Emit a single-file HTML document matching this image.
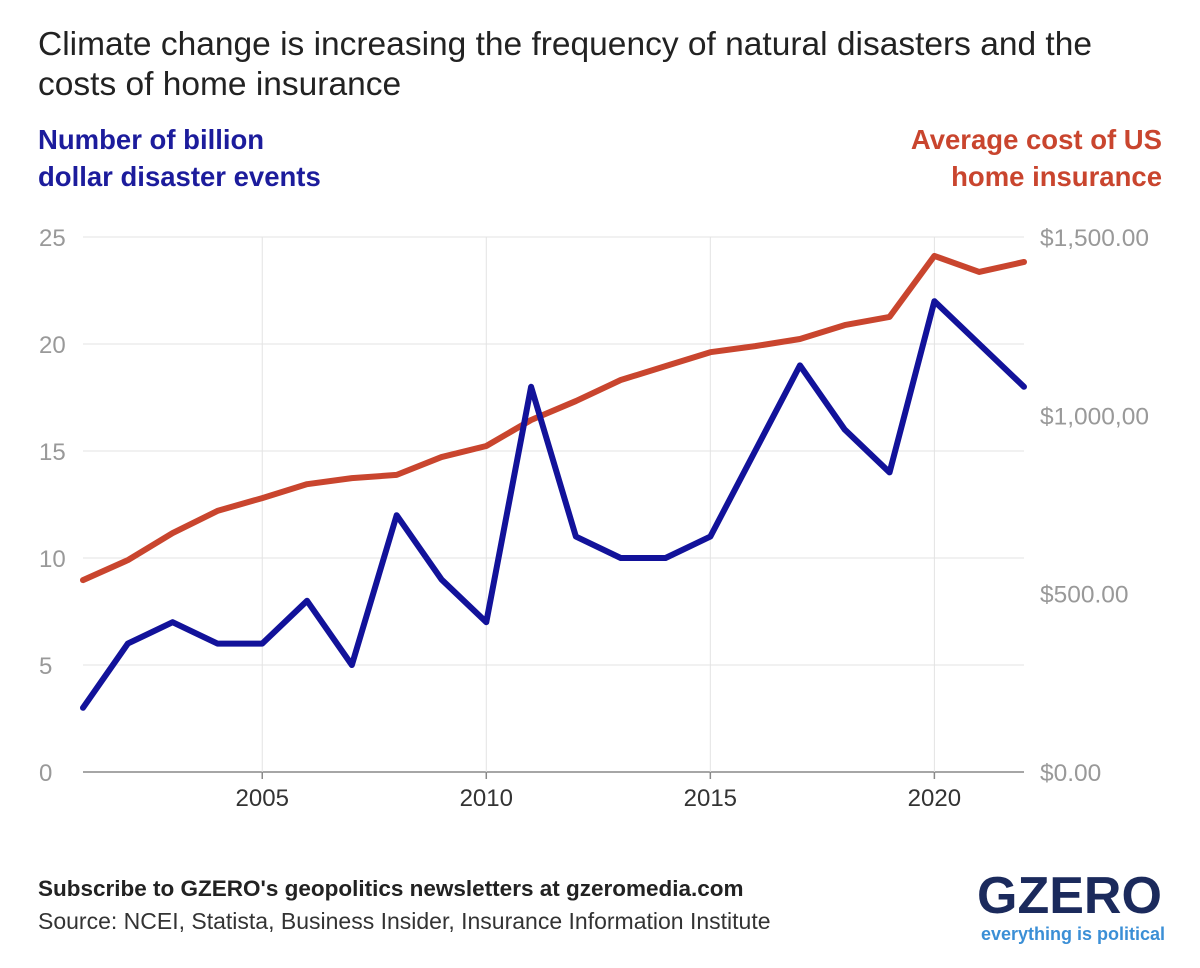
<!DOCTYPE html>
<html><head><meta charset="utf-8"><style>
body{margin:0;width:1200px;height:968px;background:#fff;font-family:"Liberation Sans",sans-serif;overflow:hidden;position:relative}
.t{position:absolute;white-space:nowrap}
</style></head><body>
<div class="t" style="left:38px;top:25px;font-size:33.5px;line-height:40px;color:#222">Climate change is increasing the frequency of natural disasters and the<br>costs of home insurance</div>
<div class="t" style="left:38px;top:121px;font-size:27.5px;line-height:37px;font-weight:bold;color:#1c1c9c">Number of billion<br>dollar disaster events</div>
<div class="t" style="right:38px;top:121px;font-size:27.5px;line-height:37px;font-weight:bold;color:#c9452e;text-align:right">Average cost of US<br>home insurance</div>
<svg id="chart" width="1200" height="968" style="position:absolute;left:0;top:0"></svg>
<div class="t" style="left:38px;top:876px;font-size:22.5px;font-weight:bold;color:#222">Subscribe to GZERO's geopolitics newsletters at gzeromedia.com</div>
<div class="t" style="left:38px;top:908px;font-size:23px;color:#333">Source: NCEI, Statista, Business Insider, Insurance Information Institute</div>
<div class="t" style="left:977px;top:866px;font-size:52px;font-weight:bold;color:#1b2a5c;letter-spacing:0px">GZERO</div>
<div class="t" style="left:981px;top:924px;font-size:18px;font-weight:bold;color:#3b8fd6">everything is political</div>
<script>
const years=[2001,2002,2003,2004,2005,2006,2007,2008,2009,2010,2011,2012,2013,2014,2015,2016,2017,2018,2019,2020,2021,2022];
const disasters=[3,6,7,6,6,8,5,12,9,7,18,11,10,10,11,15,19,16,14,22,20,18];
const insurance=[538,594,670,732,768,807,824,833,883,914,987,1040,1099,1138,1177,1194,1214,1253,1276,1447,1402,1430];
const leftTicks=[0,5,10,15,20,25];
const rightTicks=[0,500,1000,1500];
const rightLabels=["$0.00","$500.00","$1,000,00","$1,500.00"];
const xTicks=[2005,2010,2015,2020];
const NS="http://www.w3.org/2000/svg",svg=document.getElementById('chart');
const x=v=>83+(v-2001)*(1024-83)/21;
const yl=v=>772-v*(772-237)/25;
const yr=v=>772-v*(772-237)/1500;
function mk(t,a){const e=document.createElementNS(NS,t);for(const k in a)e.setAttribute(k,a[k]);svg.appendChild(e);return e;}
leftTicks.forEach(v=>{
 const l=mk('line',{x1:83,x2:1024,y1:yl(v),y2:yl(v),stroke:v?'#e3e3e3':'#888','stroke-width':v?1:1.5});
 
 const t=mk('text',{x:39,y:yl(v)+9,'font-size':24,fill:'#999','font-family':'Liberation Sans'});t.textContent=v;
 
});
rightTicks.forEach((v,i)=>{
 const t=mk('text',{x:1040,y:yr(v)+9,'font-size':24.5,fill:'#999','font-family':'Liberation Sans'});t.textContent=rightLabels[i];
 
});
xTicks.forEach(v=>{
 const l=mk('line',{x1:x(v),x2:x(v),y1:237,y2:772,stroke:'#e3e3e3','stroke-width':1});
 
 const tk=mk('line',{x1:x(v),x2:x(v),y1:772,y2:779,stroke:'#888','stroke-width':1.5});
 
 const t=mk('text',{x:x(v),y:806,'font-size':24,fill:'#333','text-anchor':'middle','font-family':'Liberation Sans'});t.textContent=v;
 
});
const pr=mk('polyline',{points:years.map((y,i)=>x(y)+','+yr(insurance[i])).join(' '),fill:'none',stroke:'#c9452e','stroke-width':6,'stroke-linejoin':'round','stroke-linecap':'round'});

const pb=mk('polyline',{points:years.map((y,i)=>x(y)+','+yl(disasters[i])).join(' '),fill:'none',stroke:'#12129a','stroke-width':6,'stroke-linejoin':'round','stroke-linecap':'round'});

</script>
</body></html>
